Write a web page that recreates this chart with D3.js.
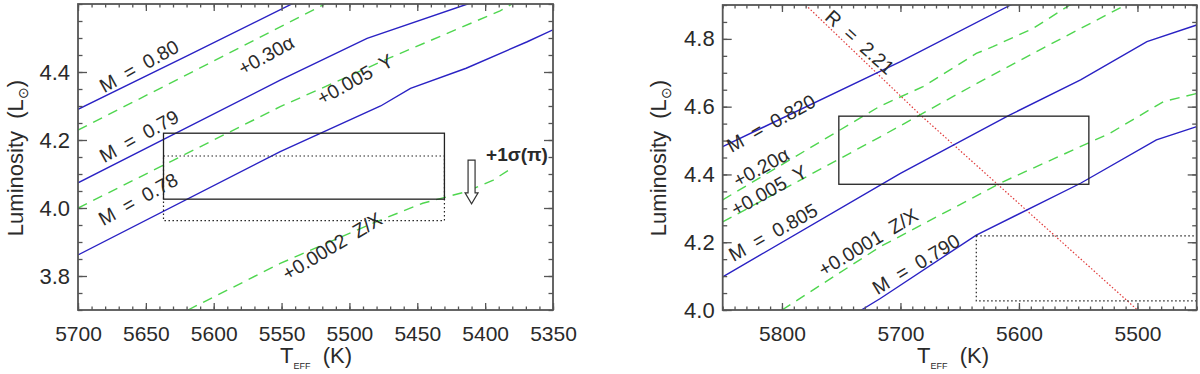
<!DOCTYPE html>
<html><head><meta charset="utf-8">
<script src="https://cdn.jsdelivr.net/npm/d3@7/dist/d3.min.js"></script>
<style>
body{margin:0;background:#fff;}
text{font-family:"Liberation Sans",Arial,sans-serif;fill:#2a2a2a;}
</style></head>
<body><svg id="c" width="1200" height="374" xmlns="http://www.w3.org/2000/svg"></svg>
<script>
// ---------------- DATA ----------------
// Left panel
const leftXTicks = [5700, 5650, 5600, 5550, 5500, 5450, 5400, 5350];
const leftYTicks = [3.8, 4.0, 4.2, 4.4];
const leftM080 = [[5700,4.290],[5620,4.447],[5540,4.605]];
const leftM079 = [[5700,4.074],[5551,4.376],[5487,4.499],[5413,4.600],[5400,4.62]];
const leftM078 = [[5700,3.862],[5551,4.166],[5477,4.300],[5455,4.352],[5414,4.411],[5369,4.489],[5350,4.524]];
const leftAlpha030 = [[5700,4.229],[5610,4.412],[5518,4.600],[5510,4.62]];
const leftY005 = [[5700,4.000],[5551,4.298],[5470,4.442],[5389,4.580],[5380,4.60]];
const leftZX0002 = [[5619,3.700],[5551,3.837],[5480,3.960],[5446,4.014],[5414,4.048],[5394,4.082],[5379,4.121]];
const leftBoxSolid = {t0:5637, t1:5430, l0:4.026, l1:4.220};
const leftBoxDotted = {t0:5637, t1:5430, l0:3.963, l1:4.153};
const leftArrow = {t:5410, lFrom:4.141, lTo:4.012};

// Right panel
const rightXTicks = [5800, 5700, 5600, 5500];
const rightYTicks = [4.0, 4.2, 4.4, 4.6, 4.8];
const rightM820 = [[5850,4.482],[5700,4.733],[5607,4.900],[5590,4.93]];
const rightAlpha020 = [[5850,4.325],[5717,4.602],[5681,4.659],[5636,4.757],[5622,4.777],[5588,4.831],[5557,4.900],[5545,4.92]];
const rightY005 = [[5850,4.260],[5717,4.511],[5640,4.660],[5580,4.772],[5510,4.900],[5500,4.92]];
const rightM805 = [[5850,4.098],[5700,4.403],[5655,4.487],[5608,4.575],[5548,4.679],[5492,4.792],[5450,4.841]];
const rightZX0001 = [[5800,4.000],[5717,4.187],[5613,4.379],[5523,4.522],[5478,4.615],[5450,4.639]];
const rightM790 = [[5733,4.000],[5717,4.034],[5636,4.221],[5548,4.374],[5484,4.502],[5450,4.541]];
const rightR221 = [[5780,4.900],[5683,4.575],[5500,4.000]];
const rightBoxSolid = {t0:5752, t1:5541, l0:4.371, l1:4.572};
const rightBoxDotted = {t0:5636, t1:5400, l0:4.027, l1:4.219};

// ---------------- DRAW ----------------
const svg = d3.select("#c");
svg.append("rect").attr("width",1200).attr("height",374).attr("fill","#fff");

const BLUE="#2a22c4", GREEN="#4fd64f", RED="#e03a3a", FRAME="#555";

function panel(cfg){
  const x = d3.scaleLinear().domain(cfg.xd).range([cfg.left, cfg.right]);
  const y = d3.scaleLinear().domain(cfg.yd).range([cfg.bottom, cfg.top]);
  const g = svg.append("g");
  const cid = "clip"+cfg.id;
  svg.append("clipPath").attr("id",cid).append("rect")
    .attr("x",cfg.left).attr("y",cfg.top).attr("width",cfg.right-cfg.left).attr("height",cfg.bottom-cfg.top);
  const pl = g.append("g").attr("clip-path",`url(#${cid})`);
  const line = d3.line().x(d=>x(d[0])).y(d=>y(d[1]));

  const xMinor = d3.range(cfg.xd[1], cfg.xd[0]+0.001, cfg.xMinor);
  const yMinor = d3.range(cfg.yd[0], cfg.yd[1]+0.0001, 0.05).map(v=>+v.toFixed(3));
  const ax = (gen, tr, vals, size, labels) => {
    const a = g.append("g").attr("transform",tr)
      .call(gen.tickValues(vals).tickSize(size).tickSizeOuter(0).tickPadding(labels?cfg.pad:0)
        .tickFormat(labels? labels : ()=>""));
    a.select(".domain").remove();
    a.selectAll(".tick line").attr("stroke",FRAME).attr("stroke-width",1.3);
    a.selectAll(".tick text").style("font-size","21px").attr("fill","#2a2a2a")
      .style("font-family","'Liberation Sans',Arial,sans-serif");
    return a;
  };
  ax(d3.axisBottom(x), `translate(0,${cfg.bottom})`, xMinor, -3.5, null);
  ax(d3.axisTop(x), `translate(0,${cfg.top})`, xMinor, -3.5, null);
  ax(d3.axisBottom(x), `translate(0,${cfg.bottom})`, cfg.xTicks, -7, d=>d).selectAll(".tick text").attr("dy","1.1em");
  ax(d3.axisTop(x), `translate(0,${cfg.top})`, cfg.xTicks, -7, null);
  ax(d3.axisLeft(y), `translate(${cfg.left},0)`, yMinor, -4.5, null);
  ax(d3.axisRight(y), `translate(${cfg.right},0)`, yMinor, -4.5, null);
  ax(d3.axisLeft(y), `translate(${cfg.left},0)`, cfg.yTicks, -9, d=>d.toFixed(1)).selectAll(".tick text").style("font-size","22px");
  ax(d3.axisRight(y), `translate(${cfg.right},0)`, cfg.yTicks, -9, null);

  cfg.series.forEach(s=>{
    pl.append("path").datum(s.data).attr("d",line).attr("fill","none")
      .attr("stroke",s.color).attr("stroke-width",s.w||1.4)
      .attr("stroke-dasharray",s.dash||null);
  });
  cfg.boxes.forEach(b=>{
    pl.append("rect").attr("x",x(b.box.t0)).attr("y",y(b.box.l1))
      .attr("width",x(b.box.t1)-x(b.box.t0)).attr("height",y(b.box.l0)-y(b.box.l1))
      .attr("fill","none").attr("stroke","#222").attr("stroke-width",b.dotted?1.2:1.3)
      .attr("stroke-dasharray",b.dotted?"1.5,2.5":null);
  });
  g.append("rect").attr("x",cfg.left).attr("y",cfg.top).attr("width",cfg.right-cfg.left)
    .attr("height",cfg.bottom-cfg.top).attr("fill","none").attr("stroke",FRAME).attr("stroke-width",1.8);

  cfg.labels.forEach(l=>{
    const t = g.append("text").attr("transform",`translate(${l.x},${l.y}) rotate(${l.a})`)
      .attr("text-anchor","middle").attr("dy","0.36em").style("font-size",(l.fs||19.5)+"px")
      .attr("xml:space","preserve").style("white-space","pre");
    if(l.bold) t.style("font-weight","bold");
    t.text(l.t);
  });

  const yt = g.append("text").attr("transform",`translate(${cfg.ytx},${cfg.yty}) rotate(-90)`)
    .attr("text-anchor","middle").style("font-size","22px").attr("xml:space","preserve").style("white-space","pre");
  yt.append("tspan").text("Luminosity  (L");
  yt.append("tspan").text("\u2299").style("font-size","14px").attr("dy","5");
  yt.append("tspan").text(")").attr("dy","-5");
  const xt = g.append("text").attr("x",cfg.xtx).attr("y",363).style("font-size","22px")
    .attr("xml:space","preserve").style("white-space","pre");
  xt.append("tspan").text("T");
  xt.append("tspan").text("EFF").style("font-size","9px").attr("dy","6");
  xt.append("tspan").text("  (K)").attr("dy","-6");
  return {x,y,g};
}

const L = panel({
  id:"L", xd:[5700,5350], yd:[3.7,4.6], left:78, right:553, top:4, bottom:310,
  xTicks:leftXTicks, yTicks:leftYTicks, xMinor:10, pad:8,
  ytx:23, yty:158, xtx:280,
  series:[
    {data:leftM080,color:BLUE},{data:leftM079,color:BLUE},{data:leftM078,color:BLUE},
    {data:leftAlpha030,color:GREEN,dash:"10,7"},{data:leftY005,color:GREEN,dash:"10,7"},
    {data:leftZX0002,color:GREEN,dash:"10,7"}
  ],
  boxes:[{box:leftBoxSolid},{box:leftBoxDotted,dotted:true}],
  labels:[
    {t:"M  =  0.80",x:139,y:66,a:-29},
    {t:"+0.30\u03b1",x:266,y:55,a:-29},
    {t:"M  =  0.79",x:139,y:136,a:-29},
    {t:"M  =  0.78",x:138,y:199,a:-29},
    {t:"+0.005  Y",x:355,y:79,a:-29},
    {t:"+0.0002  Z/X",x:332,y:246,a:-31},
    {t:"+1\u03c3(\u03c0)",x:517,y:154,a:0,bold:true,fs:19}
  ]
});
{
  const xa=L.x(leftArrow.t), y0=L.y(leftArrow.lFrom), y1=L.y(leftArrow.lTo);
  const hw=3.5, hh=6.5, hl=11;
  const p=`M${xa-hw},${y0}L${xa+hw},${y0}L${xa+hw},${y1-hl}L${xa+hh},${y1-hl}L${xa},${y1}L${xa-hh},${y1-hl}L${xa-hw},${y1-hl}Z`;
  L.g.append("path").attr("d",p).attr("fill","#fff").attr("stroke","#333").attr("stroke-width",1.2);
}

const R = panel({
  id:"R", xd:[5850,5450], yd:[4.0,4.9], left:722.7, right:1196.7, top:5, bottom:310,
  xTicks:rightXTicks, yTicks:rightYTicks, xMinor:10, pad:8,
  ytx:666, yty:158, xtx:917,
  series:[
    {data:rightR221,color:RED,dash:"1.5,2",w:1.2},
    {data:rightM820,color:BLUE},{data:rightM805,color:BLUE},{data:rightM790,color:BLUE},
    {data:rightAlpha020,color:GREEN,dash:"10,7"},{data:rightY005,color:GREEN,dash:"10,7"},
    {data:rightZX0001,color:GREEN,dash:"10,7"}
  ],
  boxes:[{box:rightBoxSolid},{box:rightBoxDotted,dotted:true}],
  labels:[
    {t:"M  =  0.820",x:771,y:123,a:-29},
    {t:"+0.20\u03b1",x:761,y:167,a:-29},
    {t:"+0.005  Y",x:769,y:190,a:-29},
    {t:"M  =  0.805",x:773,y:232,a:-29},
    {t:"+0.0001  Z/X",x:868,y:242,a:-31},
    {t:"M  =  0.790",x:916,y:264,a:-31},
    {t:"R  =  2.21",x:860,y:42,a:42}
  ]
});
</script></body></html>
